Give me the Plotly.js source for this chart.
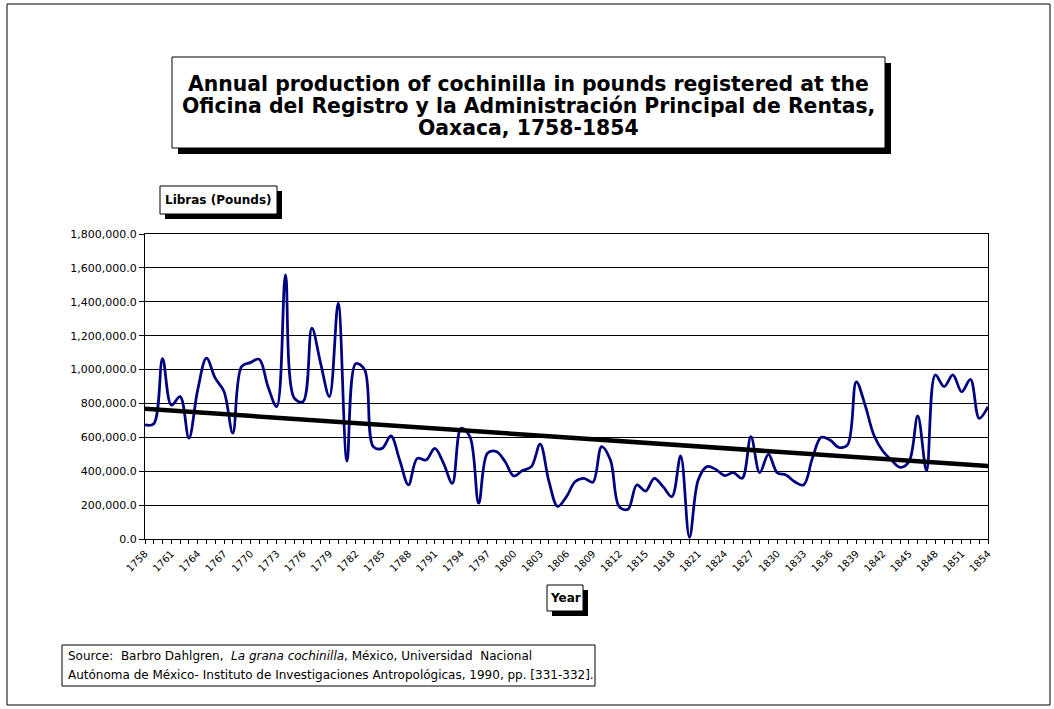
<!DOCTYPE html>
<html>
<head>
<meta charset="utf-8">
<script src="https://cdn.plot.ly/plotly-3.0.1.min.js"></script>
<style>
html,body{margin:0;padding:0;background:#fff;}
#chart{width:1054px;height:709px;}
</style>
</head>
<body>
<div id="chart"></div>
<script>
const years = [1758,1759,1760,1761,1762,1763,1764,1765,1766,1767,1768,1769,1770,1771,1772,1773,1774,1775,1776,1777,
1778,1779,1780,1781,1782,1783,1784,1785,1786,1787,1788,1789,1790,1791,1792,1793,1794,1795,1796,1797,
1798,1799,1800,1801,1802,1803,1804,1805,1806,1807,1808,1809,1810,1811,1812,1813,1814,1815,1816,1817,
1818,1819,1820,1821,1822,1823,1824,1825,1826,1827,1828,1829,1830,1831,1832,1833,1834,1835,1836,1837,
1838,1839,1840,1841,1842,1843,1844,1845,1846,1847,1848,1849,1850,1851,1852,1853,1854];

const pounds = [673000,680000,1065000,790000,840000,595000,880000,1067000,949000,870000,
625000,1018000,1041000,1061000,900000,781000,1559000,831000,811000,1244000,
1037000,840000,1392000,460000,1035000,1000000,545000,535000,608000,466000,
319000,476000,466000,535000,447000,329000,654000,604000,211000,506000,
516000,457000,372000,404000,427000,560000,340000,192000,250000,339000,
358000,335000,545000,466000,191000,175000,319000,283000,358000,309000,
250000,490000,10000,348000,427000,411000,374000,392000,358000,604000,
392000,500000,391000,378000,338000,319000,476000,600000,584000,541000,
555000,928000,791000,614000,521000,466000,423000,456000,726000,403000,
968000,899000,968000,869000,942000,712000,781000];

const labelYears = ["1758","1761","1764","1767","1770","1773","1776","1779","1782","1785","1788",
"1791","1794","1797","1800","1803","1806","1809","1812","1815","1818","1821","1824","1827","1830",
"1833","1836","1839","1842","1845","1848","1851","1854"];

const yTicks = [0,200000,400000,600000,800000,1000000,1200000,1400000,1600000,1800000];

const titleLines = ["Annual production of cochinilla in pounds registered at the",
"Oficina del Registro y la Administración Principal de Rentas,",
"Oaxaca, 1758-1854"];
const yTitle = "Libras (Pounds)";
const xTitle = "Year";
const sourceLines = ["Source:\u00a0 Barbro Dahlgren,\u00a0 <i>La grana cochinilla</i>, México, Universidad\u00a0 Nacional",
"Autónoma de México- Instituto de Investigaciones Antropológicas, 1990, pp. [331-332]."];

// linear trendline (least squares)
const n = years.length;
let sx=0, sy=0, sxx=0, sxy=0;
for (let i=0;i<n;i++){ sx+=years[i]; sy+=pounds[i]; sxx+=years[i]*years[i]; sxy+=years[i]*pounds[i]; }
const slope = (n*sxy - sx*sy)/(n*sxx - sx*sx);
const intercept = (sy - slope*sx)/n;
const trendX = [years[0], years[n-1]];
const trendY = trendX.map(x => intercept + slope*x);

// geometry helpers (pixel -> paper)
const L=145, R=988, T=234, B=539;
const px = x => (x-L)/(R-L);
const py = y => (B-y)/(B-T);

function boxShapes(x0,y0,x1,y1,shadow){
  const s = [];
  if (shadow){
    s.push({type:'rect', xref:'paper', yref:'paper', x0:px(x0+shadow), x1:px(x1+shadow), y0:py(y1+shadow), y1:py(y0+shadow),
      fillcolor:'#000', line:{width:0}, layer:'above'});
  }
  s.push({type:'rect', xref:'paper', yref:'paper', x0:px(x0), x1:px(x1), y0:py(y1), y1:py(y0),
    fillcolor:'#fff', line:{color:'#000', width:1}, layer:'above'});
  return s;
}

const shapes = [].concat(
  [{type:'rect', xref:'paper', yref:'paper', x0:px(7), x1:px(1050), y0:py(705), y1:py(4),
    fillcolor:'rgba(0,0,0,0)', line:{color:'#000', width:1}, layer:'above'}],
  boxShapes(172,57,885,148,6),
  boxShapes(160,186,277,214,5),
  boxShapes(547,585,583,611,5),
  boxShapes(62,645,595,686,0)
);

const FONT = '"DejaVu Sans", Verdana, sans-serif';

const annotations = [];
const titleY = [84, 106, 128];
titleLines.forEach((t,k) => annotations.push({
  xref:'paper', yref:'paper', x:px(528.5), y:py(titleY[k]), xanchor:'center', yanchor:'middle', showarrow:false,
  text:'<b>'+t+'</b>', font:{size:20.4, family:FONT, color:'#000'}}));
annotations.push(
  {xref:'paper', yref:'paper', x:px(218.5), y:py(200), xanchor:'center', yanchor:'middle', showarrow:false,
   text:'<b>'+yTitle+'</b>', font:{size:12, family:FONT, color:'#000'}},
  {xref:'paper', yref:'paper', x:px(565), y:py(598), xanchor:'center', yanchor:'middle', showarrow:false,
   text:'<b>'+xTitle+'</b>', font:{size:12, family:FONT, color:'#000'}}
);
const sourceY = [656, 675];
sourceLines.forEach((t,k) => annotations.push({
  xref:'paper', yref:'paper', x:px(66), y:py(sourceY[k]), xanchor:'left', yanchor:'middle', align:'left', showarrow:false,
  text:t, font:{size:12, family:FONT, color:'#000'}}));

const traces = [
  {x: years, y: pounds, type:'scatter', mode:'lines', line:{color:'#000080', width:2.75, shape:'spline', smoothing:1}, hoverinfo:'skip'},
  {x: trendX, y: trendY, type:'scatter', mode:'lines', line:{color:'#000', width:4.5}, hoverinfo:'skip'}
];

const layout = {
  width:1054, height:709,
  margin:{l:L, r:1054-R, t:T, b:709-B, pad:0},
  paper_bgcolor:'#fff', plot_bgcolor:'#fff',
  showlegend:false,
  font:{family:FONT, color:'#000'},
  xaxis:{
    range:[years[0], years[n-1]],
    tickmode:'array', tickvals: years,
    ticktext: years.map(y => labelYears.indexOf(String(y))>=0 ? String(y) : ''),
    tickangle:-45, ticks:'outside', ticklen:4, tickcolor:'#000', tickwidth:1,
    tickfont:{size:10, family:FONT, color:'#000'},
    showline:true, linecolor:'#000', linewidth:1, mirror:true,
    showgrid:false, zeroline:false, fixedrange:true
  },
  yaxis:{
    range:[0,1800000], tickmode:'array', tickvals:yTicks, tickformat:',.1f',
    ticks:'outside', ticklen:5, tickcolor:'#000', tickwidth:1,
    tickfont:{size:11, family:FONT, color:'#000'},
    showline:true, linecolor:'#000', linewidth:1, mirror:true,
    showgrid:true, gridcolor:'#000', gridwidth:1, zeroline:false, fixedrange:true
  },
  shapes: shapes,
  annotations: annotations
};

Plotly.newPlot('chart', traces, layout, {displayModeBar:false, staticPlot:true});
</script>
</body>
</html>
